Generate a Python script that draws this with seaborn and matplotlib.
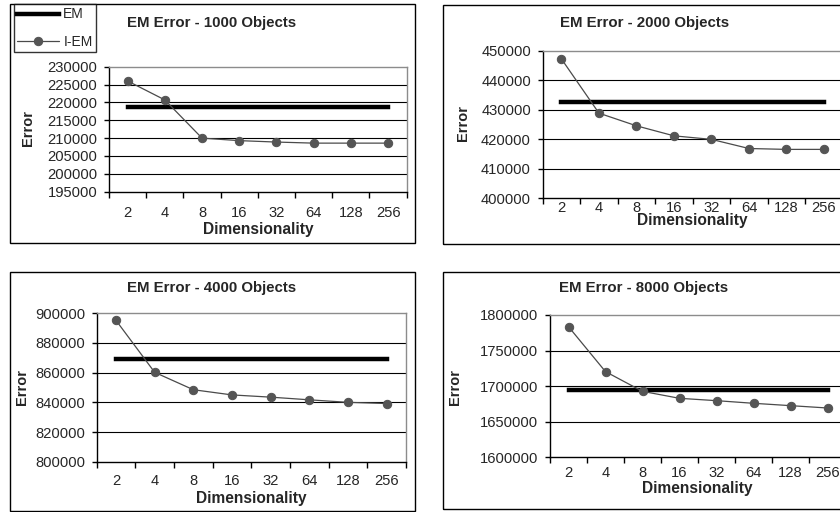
import numpy as np
import pandas as pd
import matplotlib
matplotlib.use("Agg")
import matplotlib.pyplot as plt
from matplotlib.patches import Rectangle
import seaborn as sns

# ---- data ----
dims = ["2", "4", "8", "16", "32", "64", "128", "256"]
titles = ["EM Error - 1000 Objects", "EM Error - 2000 Objects",
          "EM Error - 4000 Objects", "EM Error - 8000 Objects"]
iem_1000 = [226000, 220700, 210000, 209300, 208900, 208600, 208600, 208600]
em_1000 = 218800
iem_2000 = [447200, 428800, 424500, 421100, 419900, 416800, 416500, 416500]
em_2000 = 432500
iem_4000 = [895200, 860200, 848500, 845000, 843500, 841700, 840000, 839200]
em_4000 = 869100
iem_8000 = [1783600, 1720400, 1692700, 1682900, 1679600, 1675900, 1672600, 1669300]
em_8000 = 1695100
yticks_1000 = [195000, 200000, 205000, 210000, 215000, 220000, 225000, 230000]
yticks_2000 = [400000, 410000, 420000, 430000, 440000, 450000]
yticks_4000 = [800000, 820000, 840000, 860000, 880000, 900000]
yticks_8000 = [1600000, 1650000, 1700000, 1750000, 1800000]

sns.set_style("white")
plt.rcParams['font.family'] = ['Liberation Sans', 'DejaVu Sans']

W, H = 840, 512
fig = plt.figure(figsize=(W / 100, H / 100), dpi=100)
fig.patch.set_facecolor("white")


def px_axes(x0, y0, x1, y1):
    return fig.add_axes([x0 / W, 1 - y1 / H, (x1 - x0) / W, (y1 - y0) / H])


def ftext(x, y, s, **kw):
    fig.text(x / W, 1 - y / H, s, ha="center", va="center", **kw)


def box(x0, y0, x1, y1):
    fig.patches.append(Rectangle((x0 / W, 1 - y1 / H), (x1 - x0) / W, (y1 - y0) / H,
                                 transform=fig.transFigure, fill=False,
                                 edgecolor="black", linewidth=1.0, zorder=0))


panels = [
    dict(ax=(109, 66.7, 406.7, 191.7), box=(10, 4, 414.7, 243.3), iem=iem_1000, em=em_1000,
         yt=yticks_1000, title=(211.7, 23.3), ylab=(28, 128), xlab=(258, 229.3), tickpad=10.6),
    dict(ax=(542.7, 50.7, 842.7, 198), box=(442.7, 4.7, 860, 244.3), iem=iem_2000, em=em_2000,
         yt=yticks_2000, title=(645, 22.7), ylab=(462.7, 122.7), xlab=(692, 221), tickpad=2.0),
    dict(ax=(96.7, 313.3, 406, 461.7), box=(10, 271.7, 414.7, 511), iem=iem_4000, em=em_4000,
         yt=yticks_4000, title=(212, 288.3), ylab=(21.7, 386.7), xlab=(251, 498), tickpad=9.2),
    dict(ax=(550, 315, 846, 457.3), box=(442.7, 271.7, 860, 509.3), iem=iem_8000, em=em_8000,
         yt=yticks_8000, title=(644, 288.3), ylab=(455, 386.7), xlab=(697, 488.3), tickpad=6.4),
]

xpos = np.arange(len(dims))
handles = None
for i, p in enumerate(panels):
    box(*p["box"])
    ax = px_axes(*p["ax"])
    df = pd.DataFrame({"x": xpos, "IEM": p["iem"], "EM": [p["em"]] * len(dims)})
    sns.lineplot(data=df, x="x", y="EM", ax=ax, color="black", linewidth=3.2,
                 solid_capstyle="projecting", label="EM", zorder=3)
    sns.lineplot(data=df, x="x", y="IEM", ax=ax, color="#4a4a4a", linewidth=0.9,
                 marker="o", markersize=6, markerfacecolor="#555555",
                 markeredgecolor="#555555", label="I-EM", zorder=4)
    if i == 0:
        handles, labels = ax.get_legend_handles_labels()
    ax.get_legend().remove()
    yt = p["yt"]
    ax.set_ylim(yt[0], yt[-1])
    ax.set_xlim(-0.5, len(dims) - 0.5)
    ax.set_yticks(yt)
    ax.set_yticklabels([str(v) for v in yt], fontsize=10.6)
    for v in yt[1:-1]:
        ax.axhline(v, color="black", linewidth=0.8, zorder=1)
    ax.set_xticks(np.arange(len(dims) + 1) - 0.5)
    ax.set_xticklabels([])
    ax.set_xticks(xpos, minor=True)
    ax.set_xticklabels(dims, minor=True, fontsize=10.6)
    ax.tick_params(axis="x", which="major", direction="out", length=4, width=1,
                   color="black", bottom=True)
    ax.tick_params(axis="x", which="minor", length=0, pad=p["tickpad"])
    ax.tick_params(axis="y", direction="out", length=3.5, width=1, color="black",
                   left=True, pad=5.0)
    ax.set_xlabel("")
    ax.set_ylabel("")
    for s in ["left", "bottom"]:
        ax.spines[s].set_color("black")
        ax.spines[s].set_linewidth(1.0)
    for s in ["top", "right"]:
        ax.spines[s].set_color("#8c8c8c")
        ax.spines[s].set_linewidth(1.0)
    ax.set_facecolor("white")
    ftext(*p["title"], titles[i], fontsize=10.8, fontweight="bold")
    ftext(*p["ylab"], "Error", fontsize=10.5, fontweight="bold", rotation=90)
    ftext(*p["xlab"], "Dimensionality", fontsize=11.2, fontweight="bold")

leg = fig.legend(handles, labels, loc="upper left",
                 bbox_to_anchor=(14 / W, 1 - 4 / H), borderaxespad=0,
                 frameon=True, fancybox=False, fontsize=10, handlelength=3.0,
                 handletextpad=0.3, labelspacing=0.95, borderpad=0.25)
leg.get_frame().set_edgecolor("black")
leg.get_frame().set_linewidth(1.0)

fig.savefig("out.png", dpi=100, facecolor="white")
